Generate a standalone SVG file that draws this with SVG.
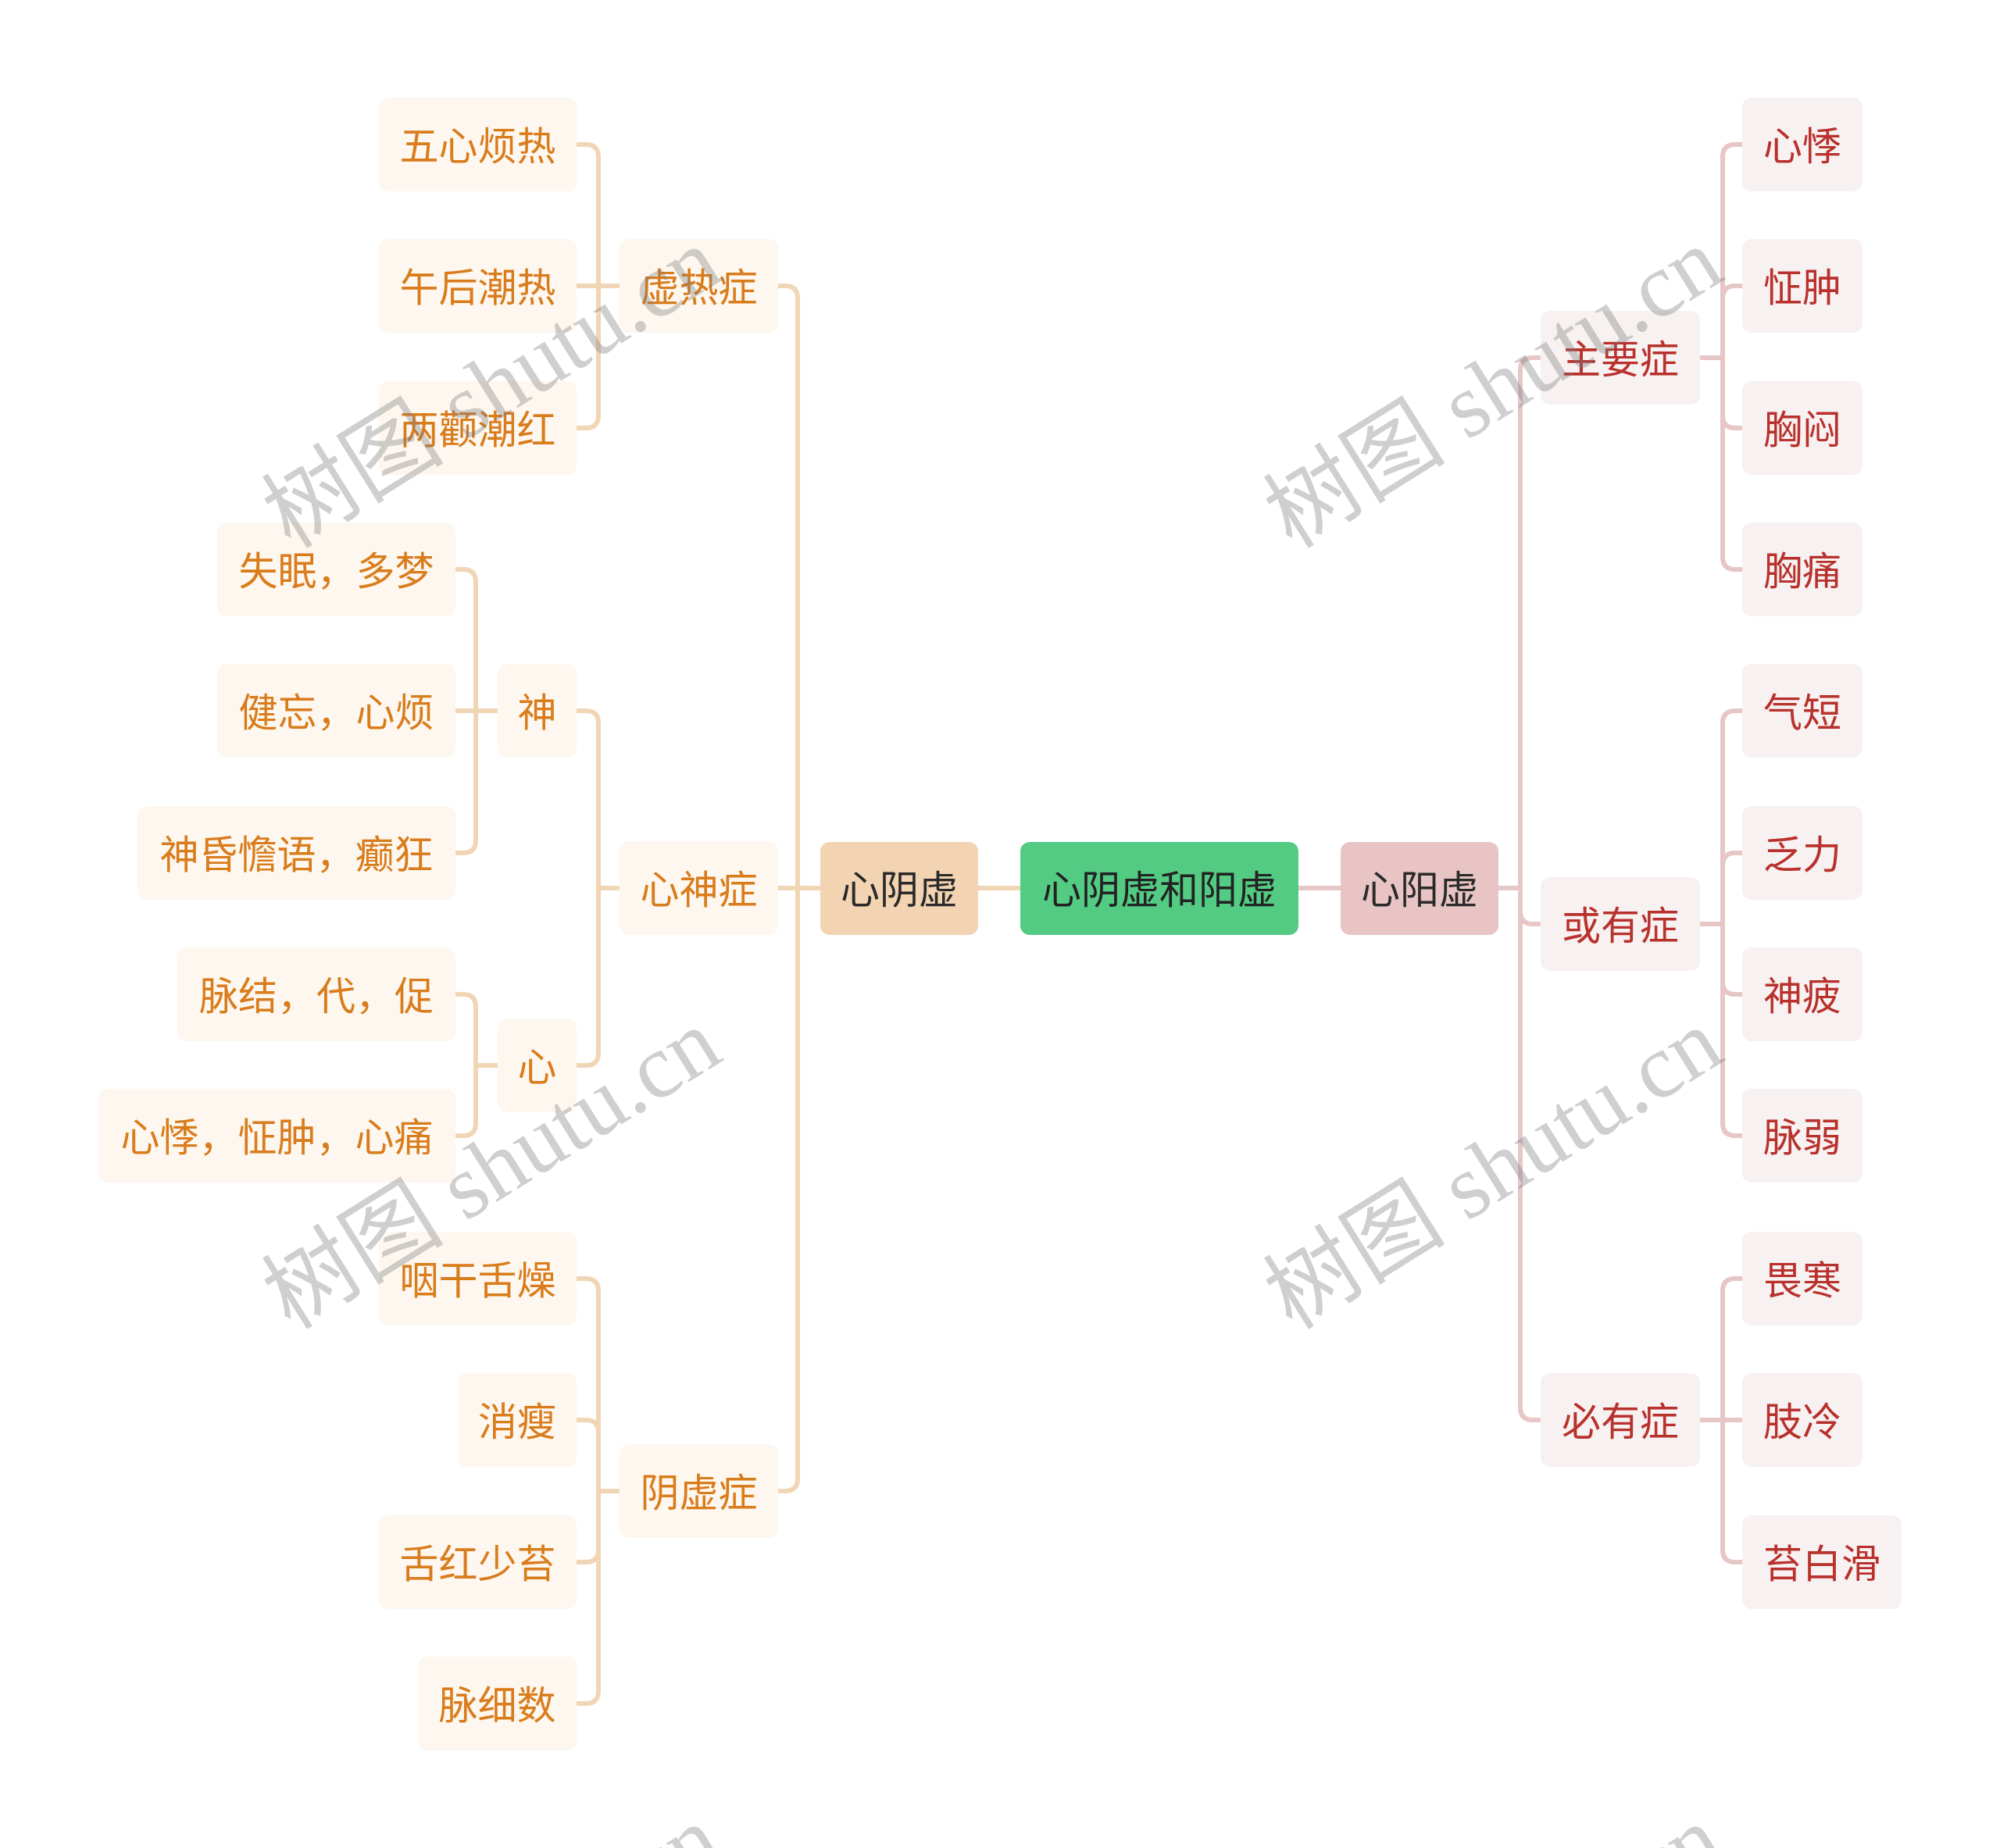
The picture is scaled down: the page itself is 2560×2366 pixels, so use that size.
<svg xmlns="http://www.w3.org/2000/svg" width="2560" height="2366" viewBox="0 0 2560 2366">
<style>
text{font-family:"Noto Sans CJK SC","Noto Sans",sans-serif;font-size:50px;text-anchor:middle;dominant-baseline:central}
.ln{fill:#FDF7EF}
.lt{fill:#D97C1C}
.rn{fill:#F8F1F1}
.rt{fill:#B8312C}
.cl{fill:none;stroke:#F1D6B6;stroke-width:6}
.cr{fill:none;stroke:#E7C6C6;stroke-width:6}
.wm{font-family:"Liberation Serif","Noto Sans CJK SC",serif;font-size:117px;text-anchor:start;dominant-baseline:alphabetic;fill:#7a7a7a;fill-opacity:0.36}
</style>
<rect width="2560" height="2366" fill="#FFFFFF"/>
<g id="connectors">
<path class="cl" d="M1306 1137H1252"/>
<path class="cr" d="M1662 1137H1716"/>
<path class="cl" d="M1050 1137H1021V382Q1021 366 1005 366H996"/>
<path class="cl" d="M1050 1137H996"/>
<path class="cl" d="M1050 1137H1021V1893Q1021 1909 1005 1909H996"/>
<path class="cl" d="M793 366H766V201Q766 185 750 185H738"/>
<path class="cl" d="M793 366H738"/>
<path class="cl" d="M793 366H766V532Q766 548 750 548H738"/>
<path class="cl" d="M793 1137H766V926Q766 910 750 910H738"/>
<path class="cl" d="M793 1137H766V1348Q766 1364 750 1364H738"/>
<path class="cl" d="M637 910H609V745Q609 729 593 729H583"/>
<path class="cl" d="M637 910H583"/>
<path class="cl" d="M637 910H609V1076Q609 1092 593 1092H583"/>
<path class="cl" d="M637 1364H609V1289Q609 1273 593 1273H583"/>
<path class="cl" d="M637 1364H609V1438Q609 1454 593 1454H583"/>
<path class="cl" d="M793 1909H766V1653Q766 1637 750 1637H738"/>
<path class="cl" d="M793 1909H766V1834Q766 1818 750 1818H738"/>
<path class="cl" d="M793 1909H766V1984Q766 2000 750 2000H738"/>
<path class="cl" d="M793 1909H766V2165Q766 2181 750 2181H738"/>
<path class="cr" d="M1918 1137H1946V474Q1946 458 1962 458H1972"/>
<path class="cr" d="M1918 1137H1946V1167Q1946 1183 1962 1183H1972"/>
<path class="cr" d="M1918 1137H1946V1802Q1946 1818 1962 1818H1972"/>
<path class="cr" d="M2176 458H2205V201Q2205 185 2221 185H2230"/>
<path class="cr" d="M2176 458H2205V382Q2205 366 2221 366H2230"/>
<path class="cr" d="M2176 458H2205V532Q2205 548 2221 548H2230"/>
<path class="cr" d="M2176 458H2205V713Q2205 729 2221 729H2230"/>
<path class="cr" d="M2176 1183H2205V926Q2205 910 2221 910H2230"/>
<path class="cr" d="M2176 1183H2205V1108Q2205 1092 2221 1092H2230"/>
<path class="cr" d="M2176 1183H2205V1257Q2205 1273 2221 1273H2230"/>
<path class="cr" d="M2176 1183H2205V1438Q2205 1454 2221 1454H2230"/>
<path class="cr" d="M2176 1818H2205V1653Q2205 1637 2221 1637H2230"/>
<path class="cr" d="M2176 1818H2230"/>
<path class="cr" d="M2176 1818H2205V1984Q2205 2000 2221 2000H2230"/>
</g>
<g id="root"><rect x="1306" y="1078" width="356" height="119" rx="12" fill="#53CB83"/><text x="1484" y="1135" fill="#222">心阴虚和阳虚</text></g>
<g id="xinyinxu"><rect x="1050" y="1078" width="202" height="119" rx="12" fill="#F2D4B2"/><text x="1151" y="1135" fill="#2a2a2a">心阴虚</text></g>
<g id="xinyangxu"><rect x="1716" y="1078" width="202" height="119" rx="12" fill="#E8C4C4"/><text x="1817" y="1135" fill="#2a2a2a">心阳虚</text></g>

<g id="xureizheng"><rect class="ln" x="793" y="306" width="203" height="120" rx="12"/><text class="lt" x="894.5" y="364">虚热症</text></g>
<g id="xinshenzheng"><rect class="ln" x="793" y="1077" width="203" height="120" rx="12"/><text class="lt" x="894.5" y="1135">心神症</text></g>
<g id="yinxuzheng"><rect class="ln" x="793" y="1849" width="203" height="120" rx="12"/><text class="lt" x="894.5" y="1907">阴虚症</text></g>
<g id="shen"><rect class="ln" x="637" y="850" width="101" height="120" rx="12"/><text class="lt" x="687.5" y="908">神</text></g>
<g id="xin"><rect class="ln" x="637" y="1304" width="101" height="120" rx="12"/><text class="lt" x="687.5" y="1362">心</text></g>

<g id="l1"><rect class="ln" x="485" y="125" width="253" height="120" rx="12"/><text class="lt" x="611.5" y="183">五心烦热</text></g>
<g id="l2"><rect class="ln" x="485" y="306" width="253" height="120" rx="12"/><text class="lt" x="611.5" y="364">午后潮热</text></g>
<g id="l3"><rect class="ln" x="485" y="488" width="253" height="120" rx="12"/><text class="lt" x="611.5" y="546">两颧潮红</text></g>
<g id="l4"><rect class="ln" x="278" y="669" width="305" height="120" rx="12"/><text class="lt" x="430.5" y="727">失眠，多梦</text></g>
<g id="l5"><rect class="ln" x="278" y="850" width="305" height="120" rx="12"/><text class="lt" x="430.5" y="908">健忘，心烦</text></g>
<g id="l6"><rect class="ln" x="176" y="1032" width="407" height="120" rx="12"/><text class="lt" x="379.5" y="1090">神昏憺语，癫狂</text></g>
<g id="l7"><rect class="ln" x="227" y="1213" width="356" height="120" rx="12"/><text class="lt" x="405" y="1271">脉结，代，促</text></g>
<g id="l8"><rect class="ln" x="126" y="1394" width="457" height="120" rx="12"/><text class="lt" x="354.5" y="1452">心悸，怔肿，心痛</text></g>
<g id="l9"><rect class="ln" x="485" y="1577" width="253" height="120" rx="12"/><text class="lt" x="611.5" y="1635">咽干舌燥</text></g>
<g id="l10"><rect class="ln" x="586" y="1758" width="152" height="120" rx="12"/><text class="lt" x="662" y="1816">消瘦</text></g>
<g id="l11"><rect class="ln" x="485" y="1940" width="253" height="120" rx="12"/><text class="lt" x="611.5" y="1998">舌红少苔</text></g>
<g id="l12"><rect class="ln" x="535" y="2121" width="203" height="120" rx="12"/><text class="lt" x="636.5" y="2179">脉细数</text></g>

<g id="zhuyaozheng"><rect class="rn" x="1972" y="398" width="204" height="120" rx="12"/><text class="rt" x="2074" y="456">主要症</text></g>
<g id="huoyouzheng"><rect class="rn" x="1972" y="1123" width="204" height="120" rx="12"/><text class="rt" x="2074" y="1181">或有症</text></g>
<g id="biyouzheng"><rect class="rn" x="1972" y="1758" width="204" height="120" rx="12"/><text class="rt" x="2074" y="1816">必有症</text></g>

<g id="r1"><rect class="rn" x="2230" y="125" width="154" height="120" rx="12"/><text class="rt" x="2307" y="183">心悸</text></g>
<g id="r2"><rect class="rn" x="2230" y="306" width="154" height="120" rx="12"/><text class="rt" x="2307" y="364">怔肿</text></g>
<g id="r3"><rect class="rn" x="2230" y="488" width="154" height="120" rx="12"/><text class="rt" x="2307" y="546">胸闷</text></g>
<g id="r4"><rect class="rn" x="2230" y="669" width="154" height="120" rx="12"/><text class="rt" x="2307" y="727">胸痛</text></g>
<g id="r5"><rect class="rn" x="2230" y="850" width="154" height="120" rx="12"/><text class="rt" x="2307" y="908">气短</text></g>
<g id="r6"><rect class="rn" x="2230" y="1032" width="154" height="120" rx="12"/><text class="rt" x="2307" y="1090">乏力</text></g>
<g id="r7"><rect class="rn" x="2230" y="1213" width="154" height="120" rx="12"/><text class="rt" x="2307" y="1271">神疲</text></g>
<g id="r8"><rect class="rn" x="2230" y="1394" width="154" height="120" rx="12"/><text class="rt" x="2307" y="1452">脉弱</text></g>
<g id="r9"><rect class="rn" x="2230" y="1577" width="154" height="120" rx="12"/><text class="rt" x="2307" y="1635">畏寒</text></g>
<g id="r10"><rect class="rn" x="2230" y="1758" width="154" height="120" rx="12"/><text class="rt" x="2307" y="1816">肢冷</text></g>
<g id="r11"><rect class="rn" x="2230" y="1940" width="204" height="120" rx="12"/><text class="rt" x="2332" y="1998">苔白滑</text></g>

<g id="watermarks">
<text class="wm" transform="translate(372 704) rotate(-32)">树图 shutu.cn</text>
<text class="wm" transform="translate(1654 704) rotate(-32)">树图 shutu.cn</text>
<text class="wm" transform="translate(372 1704) rotate(-32)">树图 shutu.cn</text>
<text class="wm" transform="translate(1654 1704) rotate(-32)">树图 shutu.cn</text>
<text class="wm" transform="translate(372 2724) rotate(-32)">树图 shutu.cn</text>
<text class="wm" transform="translate(1654 2724) rotate(-32)">树图 shutu.cn</text>
</g>
</svg>
